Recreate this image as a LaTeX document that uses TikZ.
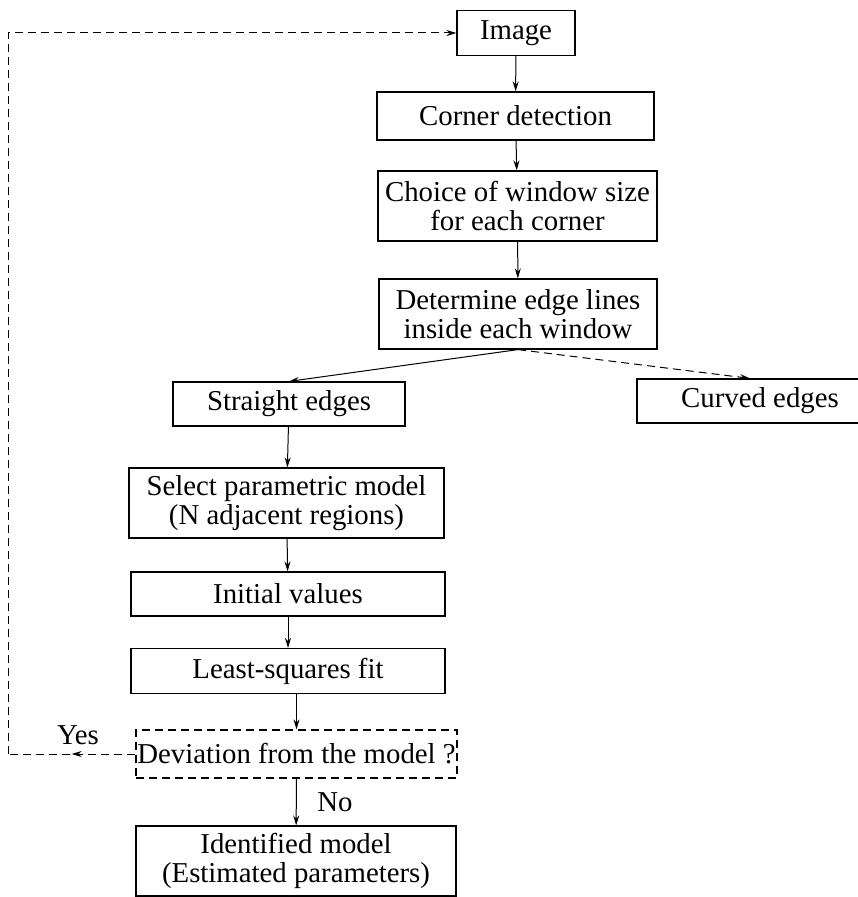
\documentclass[tikz,border=0pt]{standalone}
\usepackage{fontspec}
\setmainfont{Liberation Serif}
\usetikzlibrary{arrows.meta,decorations.markings}
\tikzset{% 
  flow/.style = {
    x=0.5pt, y=-0.5pt,
    every node/.style = {font=\fontsize{14.4}{14.6}\selectfont},
    box/.style = {shape=rectangle, draw, align=center,
      inner sep=0pt, line width=0.6pt},
    arr/.style = {draw, line width=0.5pt, -{Stealth[length=5pt,width=3pt]}},
    dashline/.style = {dash pattern=on 4pt off 2.5pt},
    midarr/.style = {postaction={decorate}, decoration={markings,
      mark=at position 0.5 with {\arrow{Stealth[length=5pt,width=3pt]}}}}
  }
}

\begin{document}
\begin{tikzpicture}[flow]
	\useasboundingbox (0,0) rectangle (857,897);
	\node[box, minimum width=59pt, minimum height=22.5pt] (img) at (516,33) {Image};
	\node[box, minimum width=138.5pt, minimum height=24pt] (corner) at (515.5,116) {Corner detection};
	\node[box, minimum width=139.5pt, minimum height=35pt] (choice) at (517.5,206)
	  {Choice of window size\\for each corner};
	\node[box, minimum width=139pt, minimum height=35pt] (determine) at (518,314)
	  {Determine edge lines\\inside each window};
	\node[box, minimum width=116pt, minimum height=22pt] (straight) at (289,404) {Straight edges};
	\node[box, minimum width=123pt, minimum height=22pt] (curved) at (760,401) {Curved edges};
	\node[box, minimum width=157.5pt, minimum height=35pt] (select) at (286.5,503)
	  {Select parametric model\\(N adjacent regions)};
	\node[box, minimum width=157pt, minimum height=22pt] (initial) at (288,594) {Initial values};
	\node[box, minimum width=157pt, minimum height=22.5pt] (lsq) at (288,671) {Least-squares fit};
	\node[box, dashline, minimum width=160.5pt, minimum height=24pt] (deviation) at (296.5,754)
	  {Deviation from the model ?};
	\node[box, minimum width=160pt, minimum height=35pt] (identified) at (296,861)
	  {Identified model\\(Estimated parameters)};
	\node (yes) at (78,735) {Yes};
	\coordinate (yesturn) at (8,754);
	\coordinate (topturn) at (8,33);

	\draw[arr] (img) -- (corner);
	\draw[arr] (corner) -- (choice);
	\draw[arr] (choice) -- (determine);
	\draw[arr] (determine.south) -- (straight.north);
	\draw[arr, dashline] (determine.south) -- ([xshift=-5pt]curved.north);
	\draw[arr] (straight) -- (select);
	\draw[arr] (select) -- (initial);
	\draw[arr] (initial) -- (lsq);
	\draw[arr] (lsq.south -| deviation.north) -- (deviation.north);
	\draw[arr] (deviation) -- node[right=7pt] (no) {No} (identified);
	% way back to the image
	\draw[dashline, line width=0.5pt, midarr] (deviation.west) -- (yesturn);
	\draw[arr, dashline] (yesturn) -- (topturn) -- (img.west);
\end{tikzpicture}
\end{document}
